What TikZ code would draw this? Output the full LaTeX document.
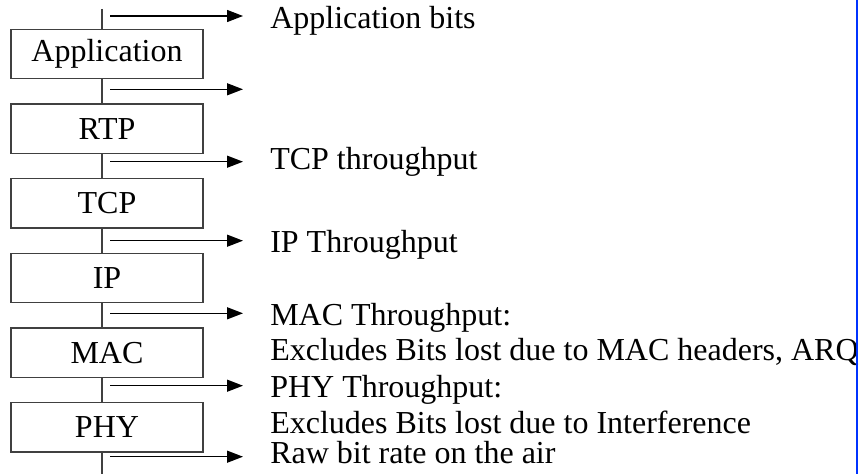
\documentclass[tikz,border=0pt]{standalone}
\usepackage{fontspec}
\setmainfont{Liberation Serif}
\usepackage{xcolor}
\usetikzlibrary{arrows.meta, positioning}

\definecolor{edgegray}{RGB}{64,64,64}
\definecolor{slideblue}{RGB}{0,51,255}

\begin{document}
\begin{tikzpicture}[
    x=0.75pt, y=-0.75pt,
    font=\fontsize{24}{28}\selectfont,
    layer/.style={draw=edgegray, line width=1pt, fill=white, minimum width=144pt, minimum height=37pt, inner sep=0pt},
    tap/.style={-{Triangle[length=12pt,width=9pt]}, line width=1pt},
    lbl/.style={anchor=base west, inner sep=0pt}
]
    \useasboundingbox (0,0) rectangle (860,474);
    \coordinate (top) at (102,9);
    \coordinate (bot) at (102,474);
    \draw[edgegray, line width=1pt] (top) -- (bot);
    % protocol stack
    \node[layer] (app) at (107,54) {Application};
    \node[layer, below=18pt of app] (rtp) {RTP};
    \node[layer, below=18pt of rtp] (tcp) {TCP};
    \node[layer, below=18pt of tcp] (ip) {IP};
    \node[layer, below=18pt of ip] (mac) {MAC};
    \node[layer, below=18pt of mac] (phy) {PHY};
    % measurement points
    \foreach \y/\n in {16/m0, 89.3/m1, 161.7/m2, 240.7/m3, 313.3/m4, 385.7/m5, 456.7/m6} {
        \coordinate (\n s) at (110,\y);
        \coordinate (\n e) at (243,\y);
        \draw[tap] (\n s) -- (\n e);
    }
    \node[lbl] (appbits) at (270,29) {Application bits};
    \node[lbl] (tcpthr) at (270,170) {TCP throughput};
    \node[lbl] (ipthr) at (270,252) {IP Throughput};
    \node[lbl] (macthr) at (270,325) {MAC Throughput:};
    \node[lbl] (macnote) at (270,360) {Excludes Bits lost due to MAC headers, ARQ};
    \node[lbl] (phythr) at (270,397) {PHY Throughput:};
    \node[lbl] (phynote) at (270,433) {Excludes Bits lost due to Interference};
    \node[lbl] (raw) at (270,463) {Raw bit rate on the air};
    % slide edge
    \coordinate (edgetop) at (857,0);
    \coordinate (edgebot) at (857,474);
    \draw[slideblue, line width=2pt] (edgetop) -- (edgebot);
\end{tikzpicture}
\end{document}
